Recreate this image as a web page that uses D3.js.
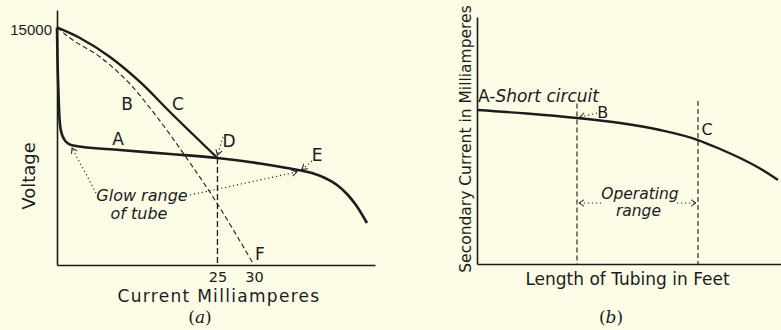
<!DOCTYPE html>
<html>
<head>
<meta charset="utf-8">
<script src="https://cdn.jsdelivr.net/npm/d3@7"></script>
<style>
  body { margin: 0; background: #fbfbe6; }
  svg { display: block; }
  text { font-family: "DejaVu Sans", sans-serif; fill: #1c1c1c; }
</style>
</head>
<body>
<svg id="chart" width="781" height="330"></svg>
<script>
// (a) current in mA, voltage in volts
var curveA = [[3,15000],[3.07,12944],[3.21,10734],[3.34,9282],[3.55,8461],[3.96,7956],[4.51,7672],[5.19,7545],
  [11.64,7261],[18.49,7009],[25,6756],[30.83,6409],[36.04,5998],[37.96,5809],[39.74,5493],[41.39,5051],
  [42.76,4483],[43.99,3788],[45.5,2652]]
var curveB = [[3,15000],[4.78,14333],[8.9,13133],[13.01,11428],[16.71,9345],[20.96,6630],[24.39,4293],[27.27,2147],[30,0]]
var curveC = [[3,15000],[6.15,14333],[10.27,13133],[14.38,11555],[18.49,9660],[25,6756]]
var xTicksA = [25, 30]
var yTicksA = [15000]
var pointD = [25, 6756]

// (b) length of tubing vs secondary current (relative units)
var curveSec = [[0,62.35],[16.45,60.93],[32.89,59.11],[47.04,57.09],[60.2,54.25],[72.7,50.2],[79.93,46.56],[86.51,42.91],[93.09,38.66],[99,34]]
var rangeB = [32.89, 65]
var rangeC = [72.7, 66]

var labelsA = [
  {t:"A", x:11.36, y:7577}, {t:"B", x:12.6, y:9787}, {t:"C", x:19.59, y:9787},
  {t:"D", x:26.58, y:7451}, {t:"E", x:38.65, y:6566}, {t:"F", x:30.83, y:316}
]
var arrowsA = [
  [[8.35,4546],[5.06,7387]], [[21.23,4420],[35.9,5872]],
  [[25.76,8082],[25,6945]], [[37.96,6566],[36.59,6030]]
]
var arrowsB = [
  [[39.47,61.13],[33.88,59.5]], [[40.8,24.7],[33.55,24.7]], [[65.8,24.7],[72.04,24.7]]
]

var ink = "#1c1c1c"
var svg = d3.select("#chart")

svg.append("defs").append("marker")
  .attr("id", "chev")
  .attr("viewBox", "-6 -4 8 8")
  .attr("markerWidth", 8).attr("markerHeight", 8)
  .attr("markerUnits", "userSpaceOnUse")
  .attr("orient", "auto")
  .append("path")
  .attr("d", "M-5,-3.2L0,0L-5,3.2")
  .attr("fill", "none").attr("stroke", ink).attr("stroke-width", 1)

// ---- panel (a)
var x = d3.scaleLinear().domain([3, 46.6]).range([57, 375])
var y = d3.scaleLinear().domain([0, 16100]).range([265, 10])
var line = d3.line().x(function(d){ return x(d[0]) }).y(function(d){ return y(d[1]) }).curve(d3.curveMonotoneX)

var ga = svg.append("g")

var xAxis = ga.append("g").attr("transform", "translate(0," + y(0) + ")")
  .call(d3.axisBottom(x).tickValues(xTicksA).tickSize(0).tickPadding(6).tickFormat(d3.format("d")))
var yAxis = ga.append("g").attr("transform", "translate(" + x(3) + ",0)")
  .call(d3.axisLeft(y).tickValues(yTicksA).tickSize(0).tickPadding(5).tickFormat(d3.format("d")))
ga.selectAll(".domain").attr("stroke", ink).attr("stroke-width", 1.6)
xAxis.selectAll("text").attr("font-size", 14.5).attr("dy", "0.75em").style("font-family", "DejaVu Sans").attr("fill", ink)
yAxis.selectAll("text").attr("font-size", 15).attr("dy", "0.45em").style("font-family", "Liberation Sans").attr("fill", ink)

ga.append("line")
  .attr("x1", x(pointD[0])).attr("x2", x(pointD[0]))
  .attr("y1", y(pointD[1])).attr("y2", y(0))
  .attr("stroke", ink).attr("stroke-width", 1.3).attr("stroke-dasharray", "6,3")

ga.append("path").datum(curveB).attr("d", line)
  .attr("fill", "none").attr("stroke", ink).attr("stroke-width", 1.1).attr("stroke-dasharray", "5,3")
ga.append("path").datum(curveC).attr("d", line)
  .attr("fill", "none").attr("stroke", ink).attr("stroke-width", 2.4)
ga.append("path").datum(curveA).attr("d", line)
  .attr("fill", "none").attr("stroke", ink).attr("stroke-width", 2.6).attr("stroke-linejoin", "round")

ga.selectAll("line.arr").data(arrowsA).enter().append("line").attr("class", "arr")
  .attr("x1", function(d){ return x(d[0][0]) }).attr("y1", function(d){ return y(d[0][1]) })
  .attr("x2", function(d){ return x(d[1][0]) }).attr("y2", function(d){ return y(d[1][1]) })
  .attr("stroke", ink).attr("stroke-width", 1.1).attr("stroke-dasharray", "1.2,2.8")
  .attr("marker-end", "url(#chev)")

ga.selectAll("text.lab").data(labelsA).enter().append("text").attr("class", "lab")
  .attr("x", function(d){ return x(d.x) }).attr("y", function(d){ return y(d.y) })
  .attr("text-anchor", "middle").attr("font-size", 17)
  .text(function(d){ return d.t })

ga.append("text").attr("x", x(14.65)).attr("y", y(4041)).attr("text-anchor", "middle")
  .attr("font-size", 16).attr("font-style", "italic").text("Glow range")
ga.append("text").attr("x", x(14.24)).attr("y", y(2904)).attr("text-anchor", "middle")
  .attr("font-size", 16).attr("font-style", "italic").text("of tube")

ga.append("text").attr("x", 219).attr("y", 302).attr("text-anchor", "middle")
  .attr("font-size", 17).attr("letter-spacing", 1.3).text("Current Milliamperes")
ga.append("text").attr("transform", "translate(35,176) rotate(-90)").attr("text-anchor", "middle")
  .attr("font-size", 18).text("Voltage")

ga.append("text").attr("x", 200).attr("y", 323).attr("text-anchor", "middle")
  .style("font-family", "DejaVu Serif").attr("font-size", 17)
  .html('(<tspan font-style="italic">a</tspan>)')

// ---- panel (b)
var x2 = d3.scaleLinear().domain([0, 100]).range([477, 781])
var y2 = d3.scaleLinear().domain([0, 100]).range([264, 17])
var line2 = d3.line().x(function(d){ return x2(d[0]) }).y(function(d){ return y2(d[1]) }).curve(d3.curveMonotoneX)

var gb = svg.append("g")
gb.append("g").attr("transform", "translate(0," + y2(0) + ")")
  .call(d3.axisBottom(x2).tickValues([]).tickSize(0).tickSizeOuter(0))
gb.append("g").attr("transform", "translate(" + x2(0) + ",0)")
  .call(d3.axisLeft(y2).tickValues([]).tickSize(0).tickSizeOuter(0))
gb.selectAll(".domain").attr("stroke", ink).attr("stroke-width", 1.6)

gb.selectAll("line.rng").data([rangeB, rangeC]).enter().append("line").attr("class", "rng")
  .attr("x1", function(d){ return x2(d[0]) }).attr("x2", function(d){ return x2(d[0]) })
  .attr("y1", function(d){ return y2(d[1]) }).attr("y2", y2(0))
  .attr("stroke", ink).attr("stroke-width", 1.1).attr("stroke-dasharray", "5,3")

gb.append("path").datum(curveSec).attr("d", line2)
  .attr("fill", "none").attr("stroke", ink).attr("stroke-width", 2.4)

gb.selectAll("line.arr").data(arrowsB).enter().append("line").attr("class", "arr")
  .attr("x1", function(d){ return x2(d[0][0]) }).attr("y1", function(d){ return y2(d[0][1]) })
  .attr("x2", function(d){ return x2(d[1][0]) }).attr("y2", function(d){ return y2(d[1][1]) })
  .attr("stroke", ink).attr("stroke-width", 1.1).attr("stroke-dasharray", "1.2,2.8")
  .attr("marker-end", "url(#chev)")

gb.append("text").attr("x", x2(0.33)).attr("y", y2(65.6)).attr("font-size", 17)
  .html('A-<tspan font-style="italic">Short circuit</tspan>')
gb.append("text").attr("x", x2(41.4)).attr("y", y2(59.1)).attr("text-anchor", "middle").attr("font-size", 16).text("B")
gb.append("text").attr("x", x2(75.66)).attr("y", y2(52.2)).attr("text-anchor", "middle").attr("font-size", 16).text("C")
gb.append("text").attr("x", x2(53.6)).attr("y", y2(26.3)).attr("text-anchor", "middle")
  .attr("font-size", 15.5).attr("font-style", "italic").text("Operating")
gb.append("text").attr("x", x2(53.1)).attr("y", y2(19.4)).attr("text-anchor", "middle")
  .attr("font-size", 15.5).attr("font-style", "italic").text("range")

gb.append("text").attr("x", 627.5).attr("y", 285).attr("text-anchor", "middle")
  .attr("font-size", 17).text("Length of Tubing in Feet")
gb.append("text").attr("transform", "translate(471,139) rotate(-90)").attr("text-anchor", "middle")
  .attr("font-size", 15.5).text("Secondary Current in Milliamperes")

gb.append("text").attr("x", 611).attr("y", 323).attr("text-anchor", "middle")
  .style("font-family", "DejaVu Serif").attr("font-size", 17)
  .html('(<tspan font-style="italic">b</tspan>)')
</script>
</body>
</html>
